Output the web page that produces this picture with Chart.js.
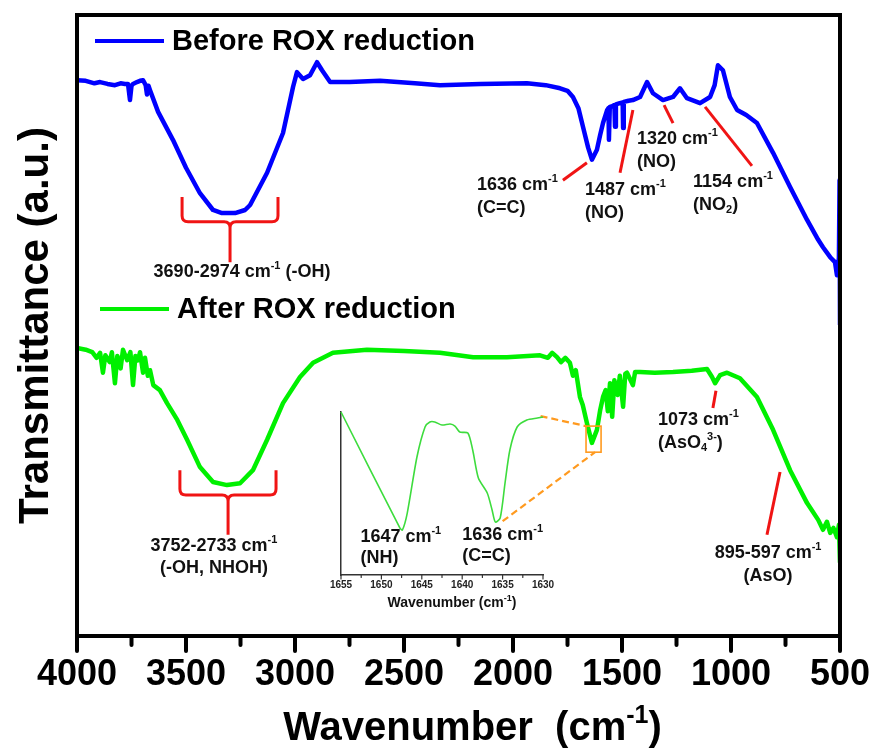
<!DOCTYPE html>
<html>
<head>
<meta charset="utf-8">
<title>FTIR spectra before and after ROX reduction</title>
<script src="https://cdn.jsdelivr.net/npm/chart.js@4.4.0/dist/chart.umd.min.js"></script>
<style>
  html, body { margin: 0; padding: 0; background: #fff; }
  #wrap { position: relative; width: 880px; height: 751px; }
  #main { position: absolute; left: 0; top: 0; }
  #inset { position: absolute; left: 325px; top: 405px; }
</style>
</head>
<body>
<div id="wrap">
  <canvas id="main" width="880" height="751"></canvas>
  <canvas id="inset" width="235" height="210"></canvas>
</div>
<script>
const FONT = "'Liberation Sans', Arial, Helvetica, sans-serif";
Chart.defaults.font.family = FONT;

// Before ROX reduction: wavenumber (cm-1) / transmittance (a.u.)
const wnBefore = [4000, 3960, 3920, 3894, 3860, 3826, 3800, 3780, 3766, 3757, 3750, 3743, 3725, 3711, 3697, 3685, 3679, 3672,
  3665, 3628, 3560, 3500, 3436, 3376, 3335, 3275, 3229, 3206, 3128, 3055, 3009, 2991, 2963, 2931, 2899, 2876, 2839,
  2750, 2610, 2450, 2335, 2150, 1936, 1850, 1784, 1750, 1725, 1700, 1679, 1655, 1638, 1615, 1600, 1587, 1568, 1562,
  1560, 1556, 1545, 1535, 1532, 1528, 1510, 1497, 1495, 1492, 1470, 1450, 1417, 1385, 1358, 1312, 1266, 1234, 1202,
  1142, 1096, 1075, 1060, 1037, 1005, 972, 930, 881, 807, 729, 651, 600, 578, 545, 523, 514, 505, 502, 500];
const tBefore = [89.5, 89.4, 89.0, 89.2, 88.9, 88.7, 89.0, 88.9, 88.9, 86.3, 88.6, 88.9, 89.2, 89.4, 89.5, 88.7, 87.2, 88.6,
  87.9, 84.4, 79.9, 75.4, 71.3, 68.6, 68.1, 68.1, 68.6, 69.4, 74.6, 81.0, 88.4, 90.8, 89.7, 90.3, 92.4, 91.1, 89.2,
  89.2, 89.4, 89.0, 88.7, 88.9, 89.0, 88.7, 88.2, 87.8, 86.8, 85.0, 82.0, 78.6, 76.7, 78.3, 80.7, 82.6, 84.7, 85.0,
  79.9, 85.2, 85.3, 85.5, 82.0, 85.6, 85.8, 85.9, 81.8, 86.0, 86.2, 86.3, 86.8, 89.2, 87.4, 86.3, 86.8, 88.2, 86.6,
  85.8, 86.8, 88.7, 91.9, 91.1, 86.8, 84.7, 83.9, 82.6, 77.8, 72.3, 67.0, 63.8, 62.6, 61.0, 60.2, 58.1, 60.9, 73.4, 50.1];

// After ROX reduction
const wnAfter = [4000, 3960, 3930, 3910, 3894, 3881, 3870, 3850, 3840, 3826, 3815, 3800, 3789, 3770, 3755, 3743, 3732,
  3720, 3711, 3697, 3688, 3675, 3665, 3650, 3620, 3587, 3540, 3495, 3436, 3376, 3312, 3252, 3193, 3128, 3055, 2977,
  2917, 2826, 2670, 2500, 2335, 2183, 2028, 1876, 1840, 1820, 1798, 1780, 1760, 1739, 1725, 1712, 1693, 1680, 1661,
  1638, 1615, 1600, 1587, 1575, 1565, 1555, 1545, 1535, 1520, 1510, 1495, 1485, 1477, 1450, 1440, 1417, 1350, 1266,
  1180, 1110, 1087, 1073, 1050, 1018, 959, 881, 807, 729, 651, 600, 578, 560, 545, 530, 514, 505, 500];
const tAfter = [46.4, 46.1, 45.7, 44.8, 45.6, 42.4, 45.2, 44.1, 45.7, 40.7, 45.1, 43.1, 46.1, 44.4, 45.7, 40.4, 45.1,
  44.4, 45.7, 42.4, 44.8, 41.9, 42.8, 40.4, 39.6, 37.5, 34.8, 31.6, 27.2, 24.8, 24.3, 24.6, 26.7, 31.6, 37.5, 41.7,
  44.0, 45.6, 46.1, 45.9, 45.6, 44.9, 44.9, 45.2, 44.8, 45.6, 44.9, 44.1, 44.8, 44.0, 41.9, 42.8, 38.5, 37.2, 34.3,
  31.1, 33.2, 36.4, 38.5, 39.6, 36.2, 40.7, 35.3, 41.2, 38.8, 41.9, 36.9, 42.2, 42.4, 40.4, 42.5, 42.5, 42.4, 42.5,
  42.7, 43.0, 41.7, 40.7, 42.0, 42.4, 41.5, 38.5, 33.2, 26.7, 21.4, 18.7, 17.1, 18.4, 16.6, 17.4, 15.9, 17.9, 11.8];

// Inset: after spectrum expanded over 1655-1630 cm-1
const wnZoom = [1655, 1647.7, 1647.4, 1646.8, 1645.6, 1644.6, 1644.0, 1643.4, 1642.5, 1641.5, 1640.9, 1640.3, 1639.3,
  1638.7, 1638.0, 1636.9, 1636.3, 1635.9, 1635.3, 1634.7, 1634.1, 1633.2, 1632.0, 1630.7, 1630];
const tZoom = [100, 28.8, 27.6, 38.0, 72.4, 90.8, 93.9, 93.9, 92.0, 92.6, 91.4, 87.7, 87.1,
  76.7, 59.5, 50.3, 39.9, 32.5, 35.0, 56.4, 76.7, 90.8, 95.1, 96.3, 96.9];

const xTicksMain = [4000, 3500, 3000, 2500, 2000, 1500, 1000, 500];
const xTicksInset = [1655, 1650, 1645, 1640, 1635, 1630];

// peak labels on the two main spectra (x in cm-1, y in a.u.)
const peakNotes = [
  { line: [[1771, 73.4], [1661, 76.2]], at: [2165, 72.6], align: 'left', text: ['1636 cm^{-1}', '(C=C)'] },
  { line: [[1509, 74.6], [1450, 84.7]], at: [1670, 71.8], align: 'left', text: ['1487 cm^{-1}', '(NO)'] },
  { line: [[1307, 85.5], [1266, 82.6]], at: [1431, 80.0], align: 'left', text: ['1320 cm^{-1}', '(NO)'] },
  { line: [[1119, 85.2], [904, 75.7]], at: [1174, 73.1], align: 'left', text: ['1154 cm^{-1}', '(NO_{2})'] },
  { line: [[1069, 39.5], [1083, 36.7]], at: [1335, 34.8], align: 'left', text: ['1073 cm^{-1}', '(AsO_{4}^{3-})'] },
  { line: [[775, 26.4], [835, 16.3]], at: [830, 13.4], align: 'center', text: ['895-597 cm^{-1}', '(AsO)'] }
];

// curly brackets under the broad O-H bands
const bandBraces = [
  { xs: [3518, 3298, 3078], ys: [70.7, 66.7, 60.2], at: [3243, 58.6], text: ['3690-2974 cm^{-1} (-OH)'] },
  { xs: [3528, 3307, 3087], ys: [26.7, 22.7, 16.3], at: [3372, 14.5], text: ['3752-2733 cm^{-1}', '(-OH, NHOH)'] }
];

// labels inside the inset
const insetNotes = [
  { at: [1652.6, 23.3], text: ['1647 cm^{-1}', '(NH)'] },
  { at: [1640.0, 24.5], text: ['1636 cm^{-1}', '(C=C)'] }
];

// region of the main spectrum shown in the inset
const zoomBox = { x: [1665, 1596], y: [33.8, 29.6] };

function toPoints(xs, ys) {
  return xs.map((x, i) => ({ x: x, y: ys[i] }));
}

// split "cm^{-1}" / "NO_{2}" into normal, superscript and subscript runs
function parseRich(str) {
  const parts = [];
  const re = /([\^_])\{([^}]*)\}/g;
  let last = 0, m;
  while ((m = re.exec(str))) {
    if (m.index > last) parts.push({ text: str.slice(last, m.index), shift: 0 });
    parts.push({ text: m[2], shift: m[1] === '^' ? 1 : -1 });
    last = re.lastIndex;
  }
  if (last < str.length) parts.push({ text: str.slice(last), shift: 0 });
  return parts;
}

function drawRich(ctx, str, x, y, size, align, color) {
  const parts = parseRich(str);
  const small = Math.round(size * 0.62);
  let total = 0;
  parts.forEach(p => {
    ctx.font = 'bold ' + (p.shift ? small : size) + 'px ' + FONT;
    p.w = ctx.measureText(p.text).width;
    total += p.w;
  });
  let cx = align === 'center' ? x - total / 2 : (align === 'right' ? x - total : x);
  ctx.fillStyle = color || '#111';
  ctx.textAlign = 'left';
  ctx.textBaseline = 'middle';
  parts.forEach(p => {
    ctx.font = 'bold ' + (p.shift ? small : size) + 'px ' + FONT;
    const dy = p.shift === 1 ? -size * 0.33 : (p.shift === -1 ? size * 0.3 : 0);
    ctx.fillText(p.text, cx, y + dy);
    cx += p.w;
  });
}

function drawTicks(ctx, scale, y, from, to, step, majorStep, majLen, minLen, width, color) {
  ctx.save();
  ctx.strokeStyle = color;
  ctx.lineWidth = width;
  ctx.lineCap = 'round';
  for (let v = from; v <= to + 1e-6; v += step) {
    const px = scale.getPixelForValue(v);
    const isMajor = Math.abs(Math.round(v / majorStep) * majorStep - v) < 1e-6;
    ctx.beginPath();
    ctx.moveTo(px, y);
    ctx.lineTo(px, y + (isMajor ? majLen : minLen));
    ctx.stroke();
  }
  ctx.restore();
}

// ---------- inset ----------
const insetPlugin = {
  id: 'insetExtras',
  afterDraw(chart) {
    const ctx = chart.ctx;
    const x = chart.scales.x, y = chart.scales.y;
    const area = chart.chartArea;
    drawTicks(ctx, x, area.bottom, 1630, 1655, 2.5, 5, 4, 2.5, 1.2, '#333');
    insetNotes.forEach(n => {
      n.text.forEach((t, i) => {
        drawRich(ctx, t, x.getPixelForValue(n.at[0]), y.getPixelForValue(n.at[1]) + i * 21, 18, 'left', '#111');
      });
    });
    drawRich(ctx, 'Wavenumber (cm^{-1})', (area.left + area.right) / 2 + 10, area.bottom + 28, 14, 'center', '#111');
  }
};

const insetChart = new Chart(document.getElementById('inset'), {
  type: 'line',
  data: {
    datasets: [{
      data: toPoints(wnZoom, tZoom),
      borderColor: '#3ddc3d',
      borderWidth: 1.6,
      pointRadius: 0,
      tension: 0.25,
      clip: false
    }]
  },
  options: {
    responsive: false,
    animation: false,
    layout: { padding: { top: 7, right: 17, left: 0, bottom: 0 } },
    scales: {
      x: {
        type: 'linear', reverse: true, min: 1630, max: 1655,
        afterBuildTicks: s => { s.ticks = xTicksInset.map(v => ({ value: v })); },
        ticks: { font: { size: 10, weight: 'bold' }, color: '#222', padding: 4, maxRotation: 0, callback: v => String(v) },
        grid: { display: false, drawTicks: false },
        border: { display: true, color: '#333', width: 1.5 },
        afterFit: s => { s.height = 40; s.paddingLeft = 0; s.paddingRight = 0; }
      },
      y: {
        min: 0, max: 100,
        ticks: { display: false },
        grid: { display: false, drawTicks: false },
        border: { display: true, color: '#333', width: 1.5 },
        afterFit: s => { s.width = 16; }
      }
    },
    plugins: { legend: { display: false }, tooltip: { enabled: false } }
  },
  plugins: [insetPlugin]
});

// ---------- main spectra ----------
const insetEl = document.getElementById('inset');

const mainPlugin = {
  id: 'ftirExtras',
  afterDraw(chart) {
    const ctx = chart.ctx;
    const x = chart.scales.x, y = chart.scales.y;
    const area = chart.chartArea;
    const px = v => x.getPixelForValue(v);
    const py = v => y.getPixelForValue(v);

    // frame and ticks
    ctx.save();
    ctx.strokeStyle = '#000';
    ctx.lineWidth = 4;
    ctx.strokeRect(area.left, area.top, area.right - area.left, area.bottom - area.top);
    ctx.restore();
    drawTicks(ctx, x, area.bottom, 500, 4000, 250, 500, 15, 9, 4, '#000');

    // x axis title
    drawRich(ctx, 'Wavenumber  (cm^{-1})', (area.left + area.right) / 2 + 14, area.bottom + 93, 40, 'center', '#000');

    // legend
    chart.data.datasets.forEach((ds, i) => {
      const ly = area.top + (i === 0 ? 26 : 294);
      const lx = area.left + (i === 0 ? 18 : 23);
      ctx.save();
      ctx.strokeStyle = ds.borderColor;
      ctx.lineWidth = 4;
      ctx.beginPath();
      ctx.moveTo(lx, ly);
      ctx.lineTo(lx + 69, ly);
      ctx.stroke();
      ctx.restore();
      drawRich(ctx, ds.label, lx + 77, ly + 1, 29, 'left', '#000');
    });

    // red leader lines and peak labels
    ctx.save();
    ctx.strokeStyle = '#f01414';
    ctx.lineWidth = 3;
    peakNotes.forEach(n => {
      ctx.beginPath();
      ctx.moveTo(px(n.line[0][0]), py(n.line[0][1]));
      ctx.lineTo(px(n.line[1][0]), py(n.line[1][1]));
      ctx.stroke();
    });
    // braces
    bandBraces.forEach(b => {
      const l = px(b.xs[0]), c = px(b.xs[1]), r = px(b.xs[2]);
      const t = py(b.ys[0]), m = py(b.ys[1]), bt = py(b.ys[2]);
      const k = 6;
      ctx.beginPath();
      ctx.moveTo(l, t);
      ctx.lineTo(l, m - k);
      ctx.quadraticCurveTo(l, m, l + k, m);
      ctx.lineTo(c - k, m);
      ctx.quadraticCurveTo(c, m, c, m + k);
      ctx.lineTo(c, bt);
      ctx.moveTo(r, t);
      ctx.lineTo(r, m - k);
      ctx.quadraticCurveTo(r, m, r - k, m);
      ctx.lineTo(c + k, m);
      ctx.quadraticCurveTo(c, m, c, m + k);
      ctx.stroke();
    });
    ctx.restore();

    peakNotes.forEach(n => {
      n.text.forEach((t, i) => drawRich(ctx, t, px(n.at[0]), py(n.at[1]) + i * 23, 18, n.align, '#111'));
    });
    bandBraces.forEach(b => {
      b.text.forEach((t, i) => drawRich(ctx, t, px(b.at[0]), py(b.at[1]) + i * 22.5, 18, 'center', '#111'));
    });

    // zoom box and dashed connectors to the inset
    const bx0 = px(zoomBox.x[0]), bx1 = px(zoomBox.x[1]);
    const by0 = py(zoomBox.y[0]), by1 = py(zoomBox.y[1]);
    const ix = insetChart.scales.x, iy = insetChart.scales.y;
    const ox = insetEl.offsetLeft, oy = insetEl.offsetTop;
    ctx.save();
    ctx.strokeStyle = '#ff9a1f';
    ctx.lineWidth = 1.6;
    ctx.strokeRect(bx0, by0, bx1 - bx0, by1 - by0);
    ctx.lineWidth = 2.2;
    ctx.setLineDash([7, 4]);
    ctx.beginPath();
    ctx.moveTo(ox + ix.getPixelForValue(1630.3), oy + iy.getPixelForValue(97.5));
    ctx.lineTo(bx0, by0);
    ctx.moveTo(ox + ix.getPixelForValue(1635), oy + iy.getPixelForValue(33));
    ctx.lineTo(bx0 + (bx1 - bx0) * 0.6, by1);
    ctx.stroke();
    ctx.restore();
  }
};

const mainChart = new Chart(document.getElementById('main'), {
  type: 'line',
  data: {
    datasets: [
      {
        label: 'Before ROX reduction',
        data: toPoints(wnBefore, tBefore),
        borderColor: '#0000ff',
        borderWidth: 4.5,
        pointRadius: 0,
        borderJoinStyle: 'round',
        tension: 0
      },
      {
        label: 'After ROX reduction',
        data: toPoints(wnAfter, tAfter),
        borderColor: '#00f000',
        borderWidth: 4.5,
        pointRadius: 0,
        borderJoinStyle: 'round',
        tension: 0
      }
    ]
  },
  options: {
    responsive: false,
    animation: false,
    layout: { padding: { top: 15, right: 40, left: 0, bottom: 0 } },
    scales: {
      x: {
        type: 'linear', reverse: true, min: 500, max: 4000,
        afterBuildTicks: s => { s.ticks = xTicksMain.map(v => ({ value: v })); },
        ticks: { font: { size: 36, weight: 'bold' }, color: '#000', padding: 17, maxRotation: 0, callback: v => String(v) },
        grid: { display: false, drawTicks: false },
        border: { display: false },
        afterFit: s => { s.height = 115; s.paddingLeft = 0; s.paddingRight = 0; }
      },
      y: {
        min: 0, max: 100,
        ticks: { display: false },
        grid: { display: false, drawTicks: false },
        border: { display: false },
        title: {
          display: true,
          text: 'Transmittance (a.u.)',
          color: '#000',
          font: { size: 42, weight: 'bold' },
          padding: { top: 11, bottom: 0 }
        },
        afterFit: s => { s.width = 77; }
      }
    },
    plugins: { legend: { display: false }, tooltip: { enabled: false } }
  },
  plugins: [mainPlugin]
});
</script>
</body>
</html>
